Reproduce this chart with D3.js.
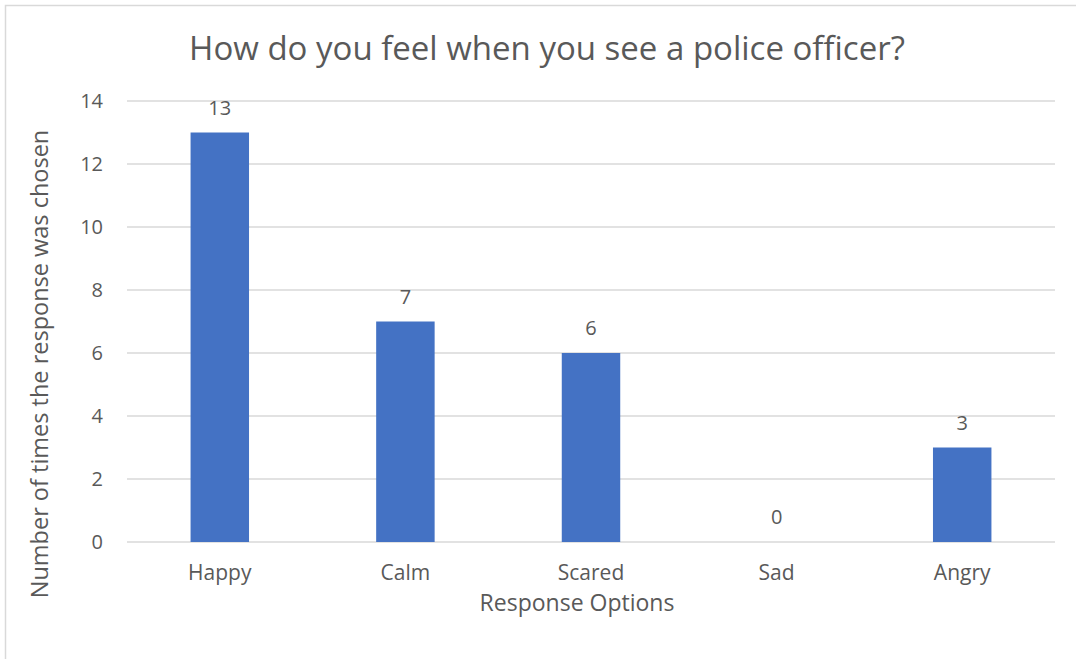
<!DOCTYPE html>
<html>
<head>
<meta charset="utf-8">
<script src="https://cdn.jsdelivr.net/npm/d3@7"></script>
<style>
  body { margin: 0; background: #fff; }
  text { font-family: "Open Sans", "Noto Sans", sans-serif; fill: #595959; }
</style>
</head>
<body>
<script>
const width = 1076, height = 659;

const categories = ["Happy", "Calm", "Scared", "Sad", "Angry"];
const counts = [13, 7, 6, 0, 3];
const yTicks = [0, 2, 4, 6, 8, 10, 12, 14];

const margin = { top: 101, right: 21, bottom: 117, left: 127 };

const svg = d3.select("body").append("svg")
  .attr("width", width)
  .attr("height", height);

// chart frame: only left and top edges show in the picture
svg.append("path")
  .attr("d", `M5.5,${height} V5.5 H${width}`)
  .attr("fill", "none")
  .attr("stroke", "#d9d9d9")
  .attr("stroke-width", 1.5);

const x = d3.scaleBand()
  .domain(categories)
  .range([margin.left, width - margin.right])
  .paddingInner(0.685)
  .paddingOuter(0.3425);

const y = d3.scaleLinear()
  .domain([0, 14])
  .range([height - margin.bottom, margin.top]);

// gridlines
svg.append("g")
  .selectAll("line")
  .data(yTicks)
  .enter()
    .append("line")
    .attr("x1", margin.left)
    .attr("x2", width - margin.right)
    .attr("y1", d => y(d))
    .attr("y2", d => y(d))
    .attr("stroke", "#d9d9d9")
    .attr("stroke-width", 1.3);

// y tick labels
const yAxis = svg.append("g")
  .attr("transform", `translate(${margin.left - 24},0)`)
  .call(d3.axisLeft(y).tickValues(yTicks).tickSize(0).tickPadding(0));
yAxis.select(".domain").remove();
yAxis.selectAll("text")
  .attr("font-size", 20)
  .attr("fill", "#595959")
  .style("font-family", "Open Sans, Noto Sans, sans-serif");

// bars
svg.append("g")
  .selectAll("rect")
  .data(counts)
  .enter()
    .append("rect")
    .attr("x", (d, i) => x(categories[i]))
    .attr("y", d => y(d))
    .attr("width", x.bandwidth())
    .attr("height", d => y(0) - y(d))
    .attr("fill", "#4472c4");

// value labels
svg.append("g")
  .selectAll("text")
  .data(counts)
  .enter()
    .append("text")
    .attr("x", (d, i) => x(categories[i]) + x.bandwidth() / 2)
    .attr("y", d => y(d) - 18)
    .attr("text-anchor", "middle")
    .attr("font-size", 20)
    .attr("fill", "#404040")
    .text(d => d);

// x category labels
const xAxis = svg.append("g")
  .attr("transform", `translate(0,${y(0) + 23})`)
  .call(d3.axisBottom(x).tickSize(0).tickPadding(0));
xAxis.select(".domain").remove();
xAxis.selectAll("text")
  .attr("font-size", 21)
  .attr("fill", "#595959")
  .style("font-family", "Open Sans, Noto Sans, sans-serif");

// title
svg.append("text")
  .attr("x", 547)
  .attr("y", 60)
  .attr("text-anchor", "middle")
  .attr("font-size", 33)
  .text("How do you feel when you see a police officer?");

// axis titles
svg.append("text")
  .attr("x", 577)
  .attr("y", 611)
  .attr("text-anchor", "middle")
  .attr("font-size", 23)
  .text("Response Options");

svg.append("text")
  .attr("transform", "translate(48,364) rotate(-90)")
  .attr("text-anchor", "middle")
  .attr("font-size", 23.5)
  .text("Number of times the response was chosen");
</script>
</body>
</html>
